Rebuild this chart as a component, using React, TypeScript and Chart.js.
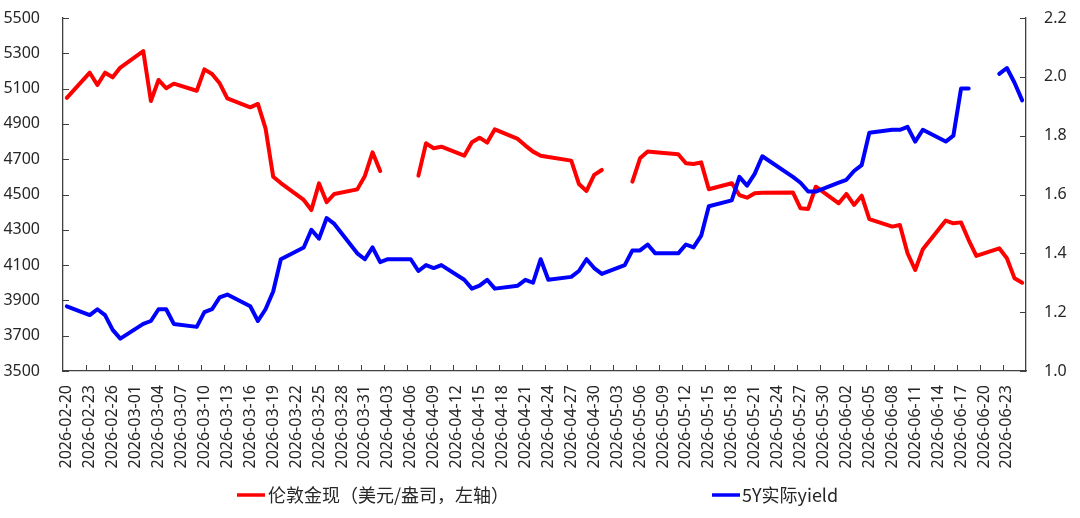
import React, { useEffect, useRef } from 'react';
import { Chart, registerables } from 'chart.js';

Chart.register(...registerables);

// Axis span (calendar days on the category axis)
const firstDay = '2026-02-20';
const lastDay = '2026-06-25';

// Trading days shown
const tradeDates = [
  '2026-02-20',
  '2026-02-23', '2026-02-24', '2026-02-25', '2026-02-26', '2026-02-27',
  '2026-03-02', '2026-03-03', '2026-03-04', '2026-03-05', '2026-03-06',
  '2026-03-09', '2026-03-10', '2026-03-11', '2026-03-12', '2026-03-13',
  '2026-03-16', '2026-03-17', '2026-03-18', '2026-03-19', '2026-03-20',
  '2026-03-23', '2026-03-24', '2026-03-25', '2026-03-26', '2026-03-27',
  '2026-03-30', '2026-03-31', '2026-04-01', '2026-04-02', '2026-04-03',
  '2026-04-06', '2026-04-07', '2026-04-08', '2026-04-09', '2026-04-10',
  '2026-04-13', '2026-04-14', '2026-04-15', '2026-04-16', '2026-04-17',
  '2026-04-20', '2026-04-21', '2026-04-22', '2026-04-23', '2026-04-24',
  '2026-04-27', '2026-04-28', '2026-04-29', '2026-04-30', '2026-05-01',
  '2026-05-04', '2026-05-05', '2026-05-06', '2026-05-07', '2026-05-08',
  '2026-05-11', '2026-05-12', '2026-05-13', '2026-05-14', '2026-05-15',
  '2026-05-18', '2026-05-19', '2026-05-20', '2026-05-21', '2026-05-22',
  '2026-05-26', '2026-05-27', '2026-05-28', '2026-05-29',
  '2026-06-01', '2026-06-02', '2026-06-03', '2026-06-04', '2026-06-05',
  '2026-06-08', '2026-06-09', '2026-06-10', '2026-06-11', '2026-06-12',
  '2026-06-15', '2026-06-16', '2026-06-17', '2026-06-18', '2026-06-19',
  '2026-06-22', '2026-06-23', '2026-06-24', '2026-06-25',
];

// London gold spot (USD/oz, left axis)
const goldSpot: (number | null)[] = [
  5048,
  5190, 5120, 5190, 5164, 5219,
  5313, 5030, 5149, 5102, 5128,
  5088, 5209, 5183, 5130, 5045,
  4994, 5013, 4875, 4601, 4565,
  4469, 4412, 4563, 4456, 4503,
  4529, 4605, 4739, 4633, null,
  null, 4607, 4790, 4762, 4771,
  4720, 4796, 4822, 4794, 4869,
  4815, 4777, 4743, 4720, 4712,
  4692, 4560, 4520, 4611, 4639,
  null, 4573, 4705, 4743, 4740,
  4728, 4677, 4673, 4682, 4530,
  4564, 4497, 4482, 4507, 4510,
  4512, 4422, 4418, 4544,
  4450, 4503, 4441, 4493, 4361,
  4318, 4327, 4167, 4072, 4190,
  4352, 4337, 4342, 4242, 4152,
  4195, 4139, 4025, 4000,
];

// 5Y real yield (%, right axis)
const realYield5Y: (number | null)[] = [
  1.22,
  1.19, 1.21, 1.19, 1.14, 1.11,
  1.16, 1.17, 1.21, 1.21, 1.16,
  1.15, 1.20, 1.21, 1.25, 1.26,
  1.22, 1.17, 1.21, 1.27, 1.38,
  1.42, 1.48, 1.45, 1.52, 1.50,
  1.40, 1.38, 1.42, 1.37, 1.38,
  1.38, 1.34, 1.36, 1.35, 1.36,
  1.31, 1.28, 1.29, 1.31, 1.28,
  1.29, 1.31, 1.30, 1.38, 1.31,
  1.32, 1.34, 1.38, 1.35, 1.33,
  1.36, 1.41, 1.41, 1.43, 1.40,
  1.40, 1.43, 1.42, 1.46, 1.56,
  1.58, 1.66, 1.63, 1.67, 1.73,
  1.66, 1.64, 1.61, 1.61,
  1.64, 1.65, 1.68, 1.70, 1.81,
  1.82, 1.82, 1.83, 1.78, 1.82,
  1.78, 1.80, 1.96, 1.96, null,
  2.01, 2.03, 1.98, 1.92,
];

const goldLabel = '伦敦金现（美元/盎司，左轴）';
const yieldLabel = '5Y实际yield';

const leftMin = 3500;
const leftMax = 5500;
const leftStep = 200;
const rightMin = 1.0;
const rightMax = 2.2;
const rightStep = 0.2;
const labelEvery = 3;

const RED = '#FF0000';
const BLUE = '#0000FF';
const AXIS = '#404040';
const TEXT = '#262626';
const CJK_FONT = '"Noto Sans CJK SC", "Noto Sans", sans-serif';
const NUM_FONT = '"Noto Sans", "DejaVu Sans", sans-serif';

function buildDays(a: string, b: string): string[] {
  const out: string[] = [];
  const d = new Date(a + 'T00:00:00Z');
  const end = new Date(b + 'T00:00:00Z');
  while (d.getTime() <= end.getTime()) {
    out.push(d.toISOString().slice(0, 10));
    d.setUTCDate(d.getUTCDate() + 1);
  }
  return out;
}

function noPad(s: any) {
  s.paddingTop = 0;
  s.paddingBottom = 0;
  s.paddingLeft = 0;
  s.paddingRight = 0;
}

const extrasPlugin = {
  id: 'extras',
  afterDraw(chart: any) {
    const { ctx, chartArea: a, scales } = chart;
    ctx.save();
    ctx.strokeStyle = AXIS;
    ctx.lineWidth = 1;
    const yl = scales.y;
    yl.ticks.forEach((_t: any, i: number) => {
      const py = Math.round(yl.getPixelForTick(i)) + 0.5;
      ctx.beginPath(); ctx.moveTo(a.left, py); ctx.lineTo(a.left + 6, py); ctx.stroke();
    });
    const yr = scales.y1;
    yr.ticks.forEach((_t: any, i: number) => {
      const py = Math.round(yr.getPixelForTick(i)) + 0.5;
      ctx.beginPath(); ctx.moveTo(a.right - 6, py); ctx.lineTo(a.right, py); ctx.stroke();
    });
    const xs = scales.x;
    const n = xs.getLabels().length;
    const slot = xs.getPixelForValue(1) - xs.getPixelForValue(0);
    for (let i = labelEvery; i < n; i += labelEvery) {
      const px = Math.round(xs.getPixelForValue(i) - slot / 2) + 0.5;
      ctx.beginPath(); ctx.moveTo(px, a.bottom); ctx.lineTo(px, a.bottom - 6); ctx.stroke();
    }
    // legend
    const ly = 495;
    ctx.font = `18px ${CJK_FONT}`;
    ctx.textBaseline = 'middle';
    ctx.textAlign = 'left';
    ctx.lineWidth = 3.5;
    ctx.strokeStyle = RED;
    ctx.beginPath(); ctx.moveTo(237, ly); ctx.lineTo(265, ly); ctx.stroke();
    ctx.fillStyle = TEXT;
    ctx.fillText(goldLabel, 268, ly);
    ctx.strokeStyle = BLUE;
    ctx.beginPath(); ctx.moveTo(712, ly); ctx.lineTo(740, ly); ctx.stroke();
    ctx.fillText(yieldLabel, 742, ly);
    ctx.restore();
  },
};

export default function App() {
  const ref = useRef<HTMLCanvasElement>(null);
  useEffect(() => {
    const labels = buildDays(firstDay, lastDay);
    const chart = new Chart(ref.current as HTMLCanvasElement, {
      type: 'line',
      data: {
        labels,
        datasets: [
          {
            label: goldLabel,
            data: tradeDates.map((d, i) => ({ x: d, y: goldSpot[i] })) as any,
            borderColor: RED,
            backgroundColor: RED,
            borderWidth: 4,
            pointRadius: 0,
            tension: 0,
            spanGaps: false,
            borderJoinStyle: 'round',
            borderCapStyle: 'round',
            yAxisID: 'y',
            order: 1,
          },
          {
            label: yieldLabel,
            data: tradeDates.map((d, i) => ({ x: d, y: realYield5Y[i] })) as any,
            borderColor: BLUE,
            backgroundColor: BLUE,
            borderWidth: 4,
            pointRadius: 0,
            tension: 0,
            spanGaps: false,
            borderJoinStyle: 'round',
            borderCapStyle: 'round',
            yAxisID: 'y1',
            order: 0,
          },
        ],
      },
      options: {
        responsive: true,
        maintainAspectRatio: false,
        animation: false,
        layout: { padding: { top: 18, bottom: 47, left: 0, right: 0 } },
        plugins: { legend: { display: false }, tooltip: { enabled: false } },
        scales: {
          x: {
            type: 'category',
            offset: true,
            grid: { display: false, drawTicks: false, offset: true },
            border: { display: true, color: AXIS, width: 1.3 },
            ticks: {
              autoSkip: false,
              maxRotation: 90,
              minRotation: 90,
              padding: 14,
              color: TEXT,
              font: { family: NUM_FONT, size: 16 },
              callback: (_v: any, i: number) => (i % labelEvery === 0 ? labels[i] : ''),
            },
            afterFit: (s: any) => { s.height = 100; noPad(s); },
          },
          y: {
            position: 'left',
            min: leftMin,
            max: leftMax,
            grid: { display: false, drawTicks: false },
            border: { display: true, color: AXIS, width: 1.3 },
            ticks: {
              stepSize: leftStep,
              padding: 23,
              color: TEXT,
              font: { family: NUM_FONT, size: 16 },
              callback: (v: any) => String(Math.round(Number(v))),
            },
            afterFit: (s: any) => { s.width = 63; noPad(s); },
          },
          y1: {
            position: 'right',
            min: rightMin,
            max: rightMax,
            grid: { display: false, drawTicks: false },
            border: { display: true, color: AXIS, width: 1.3 },
            ticks: {
              stepSize: rightStep,
              padding: 18,
              color: TEXT,
              font: { family: NUM_FONT, size: 16 },
              callback: (v: any) => Number(v).toFixed(1),
            },
            afterFit: (s: any) => { s.width = 54; noPad(s); },
          },
        },
      },
      plugins: [extrasPlugin],
    });
    return () => chart.destroy();
  }, []);
  return (
    <div style={{ position: 'fixed', left: 0, top: 0, width: 1080, height: 518, background: '#fff' }}>
      <canvas ref={ref} />
    </div>
  );
}
